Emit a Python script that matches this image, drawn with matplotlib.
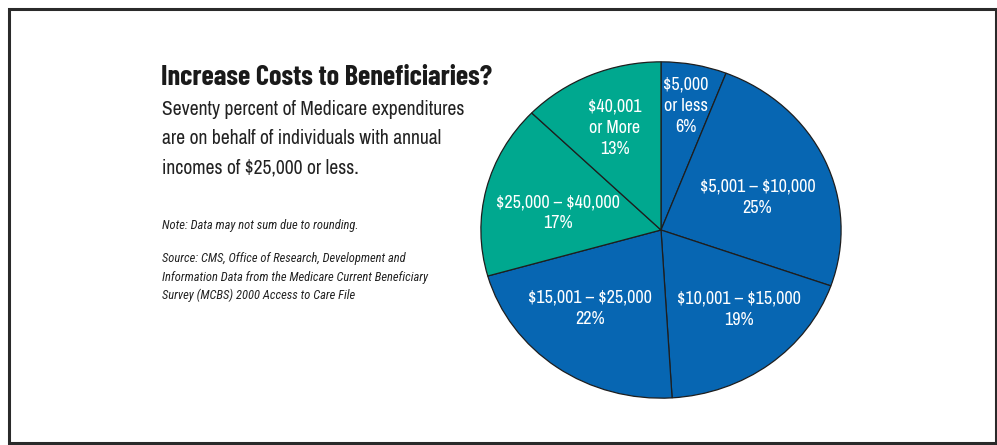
import numpy as np
import matplotlib
matplotlib.use('Agg')
from matplotlib import pyplot as plt
from matplotlib.patches import Rectangle

# income brackets and share of Medicare expenditures (%)
brackets = ['$5,000\nor less', '$5,001 – $10,000', '$10,001 – $15,000',
            '$15,001 – $25,000', '$25,000 – $40,000', '$40,001\nor More']
shares = [6, 25, 19, 22, 17, 13]
colors = ['#0766b2', '#0766b2', '#0766b2', '#0766b2', '#00a88f', '#00a88f']

title = 'Increase Costs to Beneficiaries?'
blurb = ['Seventy percent of Medicare expenditures',
         'are on behalf of individuals with annual',
         'incomes of $25,000 or less.']
note = 'Note: Data may not sum due to rounding.'
source = ['Source: CMS, Office of Research, Development and',
          'Information Data from the Medicare Current Beneficiary',
          'Survey (MCBS) 2000 Access to Care File']

narrow = ['Archivo Narrow', 'Roboto Condensed', 'Liberation Sans', 'DejaVu Sans']
heavy = ['Barlow Condensed', 'Roboto Condensed', 'Liberation Sans', 'DejaVu Sans']
small = ['Roboto Condensed', 'Liberation Sans', 'DejaVu Sans']
plt.rcParams['font.family'] = narrow
plt.rcParams['text.parse_math'] = False

W, H = 997, 445
fig = plt.figure(figsize=(W / 100, H / 100), dpi=100)

def fx(px):
    return px / W

def fy(py):
    return 1 - py / H

# frame
fig.patches.append(Rectangle((fx(9), fy(443)), fx(987), 434 / H, transform=fig.transFigure,
                             fill=False, edgecolor='#2a2a2a', linewidth=2.2))

fig.text(fx(161), fy(85), title, fontsize=20.3, fontweight='bold', family=heavy,
         color='#1a1a1a', va='baseline')
for i, line in enumerate(blurb):
    fig.text(fx(162), fy(115 + 29 * i), line, fontsize=14.1, color='#222222', va='baseline')
fig.text(fx(162), fy(229), note, fontsize=9.0, style='italic', family=small,
         color='#222222', va='baseline')
for i, line in enumerate(source):
    fig.text(fx(162), fy(262 + 18.5 * i), line, fontsize=9.0, style='italic', family=small,
             color='#222222', va='baseline')

# slightly oval pie
cx, cy, rx, ry = 661, 230, 181, 169
ax = fig.add_axes([fx(cx - rx), (H - cy - ry) / H, 2 * rx / W, 2 * ry / H])
wedges, _ = ax.pie(shares, colors=colors, startangle=90, counterclock=False, radius=1,
                   wedgeprops=dict(edgecolor='#1e1e1e', linewidth=0.9))
ax.set_aspect('auto')
ax.set_xlim(-1.005, 1.005)
ax.set_ylim(-1.005, 1.005)
ax.axis('off')

# label placement along each wedge: radius and angle nudge (deg)
lab_r = [0.75, 0.57, 0.64, 0.61, 0.58, 0.66]
lab_nudge = [0, -4.7, 5.7, -4.7, 4, 0]
for w, name, val, r, d in zip(wedges, brackets, shares, lab_r, lab_nudge):
    th = np.deg2rad((w.theta1 + w.theta2) / 2 + d)
    ax.text(r * np.cos(th), r * np.sin(th), f'{name}\n{val}%', ha='center', va='center',
            color='white', fontsize=13, linespacing=1.4)

fig.savefig('out.png', dpi=100)
